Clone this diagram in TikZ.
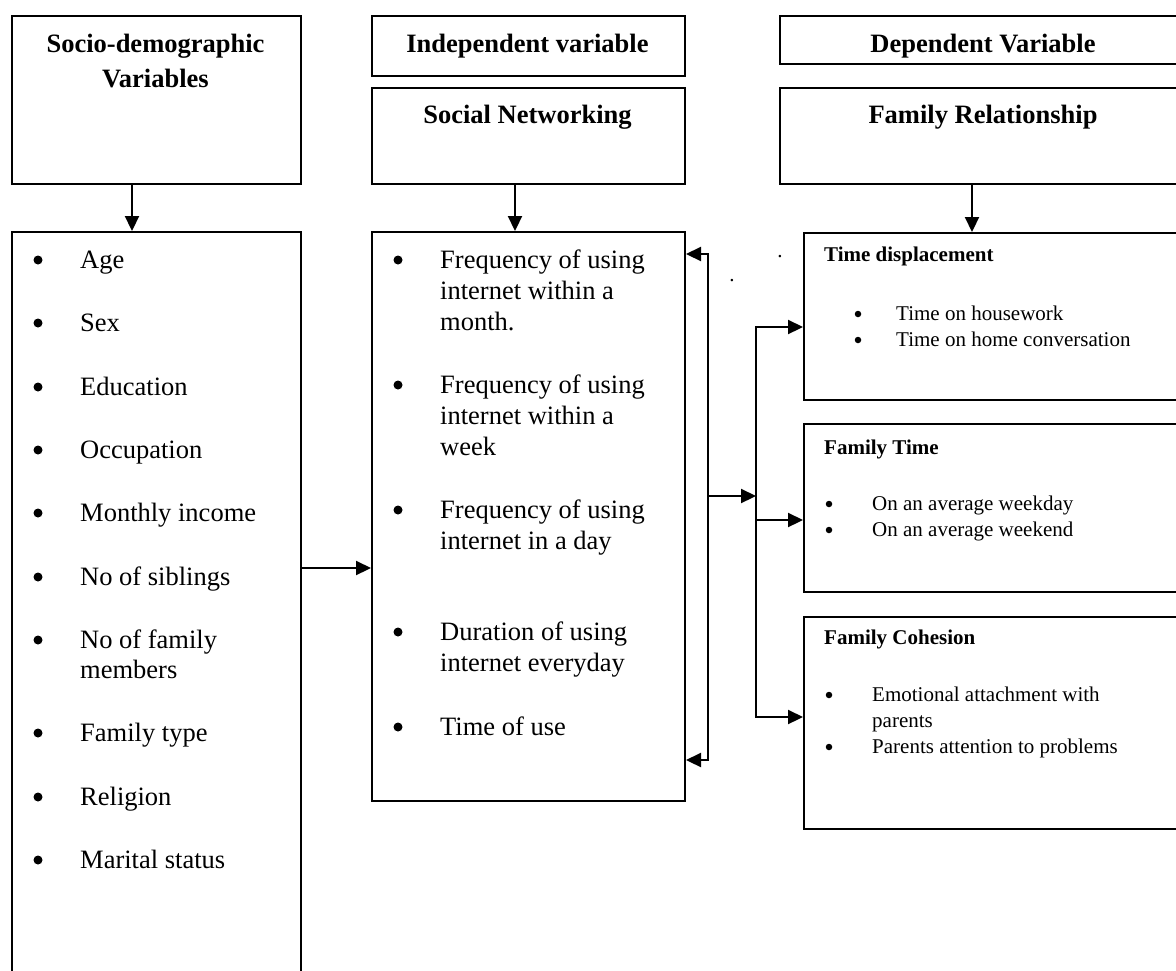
\documentclass[tikz,border=0pt]{standalone}
\usepackage{fontspec}
\setmainfont{Liberation Serif}
\usetikzlibrary{arrows.meta}
\begin{document}
\begin{tikzpicture}[x=1pt,y=-1pt,
  box/.style={draw, line width=2pt, inner sep=0, anchor=north west},
  con/.style={line width=2.2pt},
  tip/.tip={Triangle[length=15pt,width=14pt]},
  arr/.style={con, -tip},
  big/.style={font=\fontsize{26.5}{31}\selectfont, inner sep=0, anchor=base west},
  head/.style={font=\fontsize{26.5}{31}\selectfont\bfseries, inner sep=0, anchor=base},
  sm/.style={font=\fontsize{21}{26}\selectfont, inner sep=0, anchor=base west},
  smb/.style={font=\fontsize{21}{26}\selectfont\bfseries, inner sep=0, anchor=base west},
  bulb/.style={circle, fill, inner sep=0, minimum size=9pt},
  buls/.style={circle, fill, inner sep=0, minimum size=6.5pt},
]
\useasboundingbox (0,0) rectangle (1176,970);
\clip (0,0) rectangle (1176,970);

% header boxes
\node[box, minimum width=289pt, minimum height=168pt] (sd) at (11,15) {};
\node[box, minimum width=313pt, minimum height=60pt] (iv) at (371,15) {};
\node[box, minimum width=313pt, minimum height=96pt] (sn) at (371,87) {};
\node[box, minimum width=408pt, minimum height=48pt] (dv) at (779,15) {};
\node[box, minimum width=408pt, minimum height=96pt] (fr) at (779,87) {};

\node[head] (sdt1) at (155.5,52) {Socio-demographic};
\node[head] (sdt2) at (155.5,87) {Variables};
\node[head] (ivt) at (527.5,52) {Independent variable};
\node[head] (snt) at (527.5,123) {Social Networking};
\node[head] (dvt) at (983,52) {Dependent Variable};
\node[head] (frt) at (983,123) {Family Relationship};

% list boxes
\node[box, minimum width=289pt, minimum height=760pt] (sdl) at (11,231) {};
\node[box, minimum width=313pt, minimum height=569pt] (snl) at (371,231) {};
\node[box, minimum width=400pt, minimum height=167pt] (td) at (803,232) {};
\node[box, minimum width=400pt, minimum height=168pt] (ft) at (803,423) {};
\node[box, minimum width=400pt, minimum height=212pt] (fc) at (803,616) {};

% left list
\node[bulb] (lb1) at (38,260) {};  \node[big] (l1) at (80,268) {Age};
\node[bulb] (lb2) at (38,323) {};  \node[big] (l2) at (80,331) {Sex};
\node[bulb] (lb3) at (38,387) {};  \node[big] (l3) at (80,395) {Education};
\node[bulb] (lb4) at (38,450) {};  \node[big] (l4) at (80,458) {Occupation};
\node[bulb] (lb5) at (38,513) {};  \node[big] (l5) at (80,521) {Monthly income};
\node[bulb] (lb6) at (38,577) {};  \node[big] (l6) at (80,585) {No of siblings};
\node[bulb] (lb7) at (38,640) {};  \node[big] (l7) at (80,648) {No of family};
                                   \node[big] (l7b) at (80,678) {members};
\node[bulb] (lb8) at (38,733) {};  \node[big] (l8) at (80,741) {Family type};
\node[bulb] (lb9) at (38,797) {};  \node[big] (l9) at (80,805) {Religion};
\node[bulb] (lb10) at (38,860) {}; \node[big] (l10) at (80,868) {Marital status};

% middle list
\node[bulb] (mb1) at (398,260) {};
\node[big] (m1a) at (440,268) {Frequency of using};
\node[big] (m1b) at (440,299) {internet within a};
\node[big] (m1c) at (440,330) {month.};
\node[bulb] (mb2) at (398,385) {};
\node[big] (m2a) at (440,393) {Frequency of using};
\node[big] (m2b) at (440,424) {internet within a};
\node[big] (m2c) at (440,455) {week};
\node[bulb] (mb3) at (398,510) {};
\node[big] (m3a) at (440,518) {Frequency of using};
\node[big] (m3b) at (440,549) {internet in a day};
\node[bulb] (mb4) at (398,632) {};
\node[big] (m4a) at (440,640) {Duration of using};
\node[big] (m4b) at (440,671) {internet everyday};
\node[bulb] (mb5) at (398,727) {};
\node[big] (m5a) at (440,735) {Time of use};

% right lists
\node[smb] (tdt) at (824,261) {Time displacement};
\node[buls] (tb1) at (858,314) {}; \node[sm] (t1) at (896,320) {Time on housework};
\node[buls] (tb2) at (858,340) {}; \node[sm] (t2) at (896,346) {Time on home conversation};

\node[smb] (ftt) at (824,454) {Family Time};
\node[buls] (fb1) at (829,504) {}; \node[sm] (f1) at (872,510) {On an average weekday};
\node[buls] (fb2) at (829,530) {}; \node[sm] (f2) at (872,536) {On an average weekend};

\node[smb] (fct) at (824,644) {Family Cohesion};
\node[buls] (cb1) at (829,695) {}; \node[sm] (c1t) at (872,701) {Emotional attachment with};
                                  \node[sm] (c1u) at (872,727) {parents};
\node[buls] (cb2) at (829,747) {}; \node[sm] (c2t) at (872,753) {Parents attention to problems};

% stray dots
\node[sm, anchor=base] (dot1) at (780,257) {.};
\node[sm, anchor=base] (dot2) at (732,281) {.};

% connectors
\coordinate (a1) at (132,0);
\coordinate (a2) at (515,0);
\coordinate (a3) at (972,0);
\draw[arr] (sd.south -| a1) -- (sdl.north -| a1);
\draw[arr] (sn.south -| a2) -- (snl.north -| a2);
\draw[arr] (fr.south -| a3) -- (td.north -| a3);

\coordinate (h1) at (0,568);
\draw[arr] (sdl.east |- h1) -- (snl.west |- h1);

\coordinate (b1) at (708,254);
\coordinate (b2) at (708,760);
\draw[con, tip-tip] (snl.east |- b1) -- (b1) -- (b2) -- (snl.east |- b2);

\coordinate (c1) at (756,327);
\coordinate (c2) at (756,717);
\coordinate (h2) at (0,496);
\coordinate (h3) at (0,520);
\draw[arr] (b1 |- h2) -- (c1 |- h2);
\draw[con, tip-tip] (td.west |- c1) -- (c1) -- (c2) -- (fc.west |- c2);
\draw[arr] (c1 |- h3) -- (ft.west |- h3);
\end{tikzpicture}
\end{document}
